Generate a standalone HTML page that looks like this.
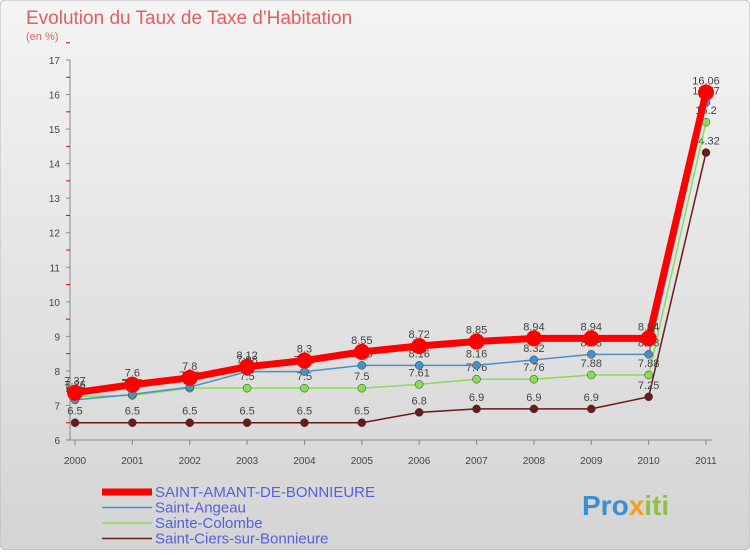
<!DOCTYPE html>
<html><head><meta charset="utf-8"><style>
body{margin:0;width:750px;height:550px;overflow:hidden;font-family:"Liberation Sans",sans-serif}
</style></head><body>
<svg width="750" height="550" xmlns="http://www.w3.org/2000/svg">
<defs><linearGradient id="bg" x1="0" y1="0" x2="0" y2="1"><stop offset="0" stop-color="#f4f4f4"/><stop offset="1" stop-color="#d4d4d4"/></linearGradient></defs>
<rect width="750" height="550" fill="url(#bg)" rx="6" stroke="#bbb"/>
<text x="26" y="24" font-size="19" fill="#e06060">Evolution du Taux de Taxe d'Habitation</text>
<text x="26" y="40" font-size="11" fill="#e06060">(en %)</text>
<g id="axes"></g><g id="series"></g><g id="legend"></g>
<text x="582" y="515" font-size="28" font-weight="bold" fill="#3a8fd0">Pro<tspan fill="#f0a020">x</tspan><tspan fill="#90c040">iti</tspan></text>
</svg>
<script>
const years=[2000,2001,2002,2003,2004,2005,2006,2007,2008,2009,2010,2011];
const yTicks=[6,7,8,9,10,11,12,13,14,15,16,17];
const red=[7.37,7.6,7.8,8.12,8.3,8.55,8.72,8.85,8.94,8.94,8.94,16.06];
const blue=[7.16,7.32,7.53,7.98,7.98,8.16,8.16,8.16,8.32,8.48,8.48,15.77];
const green=[7.26,7.29,7.5,7.5,7.5,7.5,7.61,7.76,7.76,7.88,7.88,15.2];
const brown=[6.5,6.5,6.5,6.5,6.5,6.5,6.8,6.9,6.9,6.9,7.25,14.32];
const names=["SAINT-AMANT-DE-BONNIEURE","Saint-Angeau","Sainte-Colombe","Saint-Ciers-sur-Bonnieure"];
const NS="http://www.w3.org/2000/svg";
const X=i=>75+i*(631/11), Y=v=>440-(v-6)*(380/11);
function mk(t,a,p){const e=document.createElementNS(NS,t);for(const k in a)e.setAttribute(k,a[k]);p.appendChild(e);return e;}
const ax=document.getElementById('axes');
const yl=mk('line',{x1:70,y1:60,x2:70,y2:440,stroke:'#888'},ax);


const xl=mk('line',{x1:70,y1:440,x2:712,y2:440,stroke:'#888'},ax);


yTicks.forEach(v=>{const t=mk('text',{x:60,y:Y(v)+4,'font-size':10,fill:'#444','text-anchor':'end'},ax);t.textContent=v;


mk('line',{x1:66,y1:Y(v),x2:70,y2:Y(v),stroke:'#888'},ax);
mk('line',{x1:66,y1:Y(v+0.5),x2:70,y2:Y(v+0.5),stroke:'#e00'},ax);});
years.forEach((y,i)=>{const t=mk('text',{x:X(i),y:464,'font-size':10,fill:'#444','text-anchor':'middle'},ax);t.textContent=y;


mk('line',{x1:X(i),y1:440,x2:X(i),y2:445,stroke:'#888'},ax);});
const sg=document.getElementById('series');
const S=[[brown,'#6b1a1a',1.5,4,'brown'],[green,'#88dd55',1.5,4,'green'],[blue,'#4a90c8',1.5,4,'blue'],[red,'#ff0000',7,8,'red']];
S.forEach(([d,c,w,r,n],si)=>{
const p=mk('polyline',{points:d.map((v,i)=>X(i)+','+Y(v)).join(' '),fill:'none',stroke:c,'stroke-width':w},sg);


d.forEach((v,i)=>{const m=mk('circle',{cx:X(i),cy:Y(v),r:r,fill:c,stroke:si==3?'none':'#333','stroke-width':0.5},sg);


const t=mk('text',{x:X(i),y:Y(v)-8,'font-size':11,fill:'#444','text-anchor':'middle'},sg);t.textContent=v;

});});
const lg=document.getElementById('legend');
[['#ff0000',7],['#4a90c8',1.5],['#88dd55',1.5],['#6b1a1a',1.5]].forEach(([c,w],i)=>{
const yy=492+i*15.5;
const l=mk('line',{x1:102,y1:yy,x2:152,y2:yy,stroke:c,'stroke-width':w},lg);


const t=mk('text',{x:155,y:yy+5,'font-size':15,fill:'#5560dd'},lg);t.textContent=names[i];

});
</script>
</body></html>
